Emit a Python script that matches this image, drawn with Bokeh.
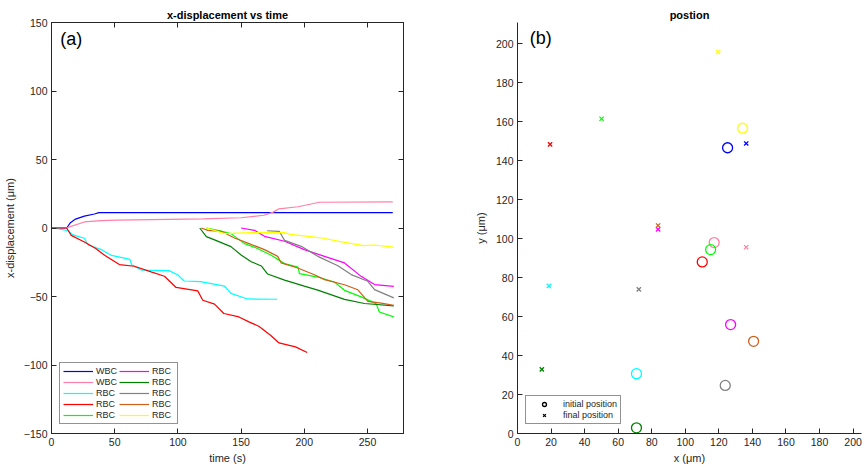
from bokeh.plotting import figure
from bokeh.layouts import row
from bokeh.models import Legend, LegendItem, LinearAxis, Label, FixedTicker, Range1d
from bokeh.embed import file_html
from bokeh.resources import INLINE

# ---------------- data: x-displacement vs time ----------------
t_wbc1 = [0, 12, 15, 19, 26, 34, 37.4, 270]
d_wbc1 = [0, 0, 3.9, 6.5, 8.7, 10.2, 11.2, 11.2]

t_wbc2 = [0, 13, 26, 39, 52, 79, 120, 150, 168, 175, 180, 195, 212, 270]
d_wbc2 = [0, 0.5, 4.4, 5.4, 5.8, 6.1, 6.6, 7.5, 9.3, 11.4, 14.0, 15.5, 18.8, 19]

t_rbc_cyan = [0, 5, 13, 17, 26, 29, 40, 47.5, 55, 62, 63.5, 71, 93, 100, 105, 118, 137, 142, 155, 178.5]
d_rbc_cyan = [0, -0.5, -2, -5, -7.5, -12.4, -16, -20, -21.4, -22.9, -27, -30.7, -31.1, -34.3, -38.7, -39.2, -42.4, -47.7, -51.8, -52]

t_rbc_red = [0, 12, 15.6, 26, 35, 42, 53.7, 65.6, 78.8, 89.4, 98.6, 115.7, 119.7, 129, 136.4, 148.3, 156.2, 164, 173.3, 180, 193, 202.3]
d_rbc_red = [0, 0, -5.4, -10.2, -15, -19.9, -26.7, -27.9, -32, -35.2, -43.4, -45.9, -52.7, -55.6, -62.4, -64.9, -68.5, -71.7, -78.3, -83.9, -86.8, -90.9]

t_rbc_lime = [122.5, 131.6, 142, 152.7, 162, 173.9, 184.4, 195, 196.2, 210.7, 223.8, 231.8, 245, 256.8, 259.4, 270.8]
d_rbc_lime = [0, -1.7, -4.1, -11.4, -14.6, -19.9, -26, -28.5, -33.3, -35.8, -39.4, -45.5, -50.3, -55.2, -61.3, -64.9]

t_rbc_magenta = [150, 160.6, 168.5, 184.4, 200, 216, 231.8, 245, 255.6, 270.8]
d_rbc_magenta = [0, -1.7, -6.1, -9.7, -15.8, -20.7, -25.5, -35.3, -41.3, -42.6]

t_rbc_dkgreen = [117.3, 122.5, 129, 142, 150, 158, 166, 171, 184.4, 200, 210.7, 231.8, 247.6, 270.8]
d_rbc_dkgreen = [0, -6.3, -8.7, -13.6, -19.7, -24.6, -27.7, -33.6, -38, -42.4, -45.3, -52.1, -55.1, -56.8]

t_rbc_gray = [170.6, 180.2, 184.4, 197.6, 210.7, 226.6, 237.1, 250.3, 255.6, 270.8]
d_rbc_gray = [-2, -2.4, -9, -13.4, -20.7, -27.5, -34, -38.9, -45, -51]

t_rbc_brown = [118.5, 123.7, 134.3, 144.8, 155.3, 168.5, 179, 181.7, 194.8, 208, 216, 231.8, 242.4, 250.3, 260.8, 270.8]
d_rbc_brown = [0, -1.7, -2.4, -7.3, -11, -15.8, -20.7, -25.5, -29.2, -34.1, -37.7, -41.4, -45.1, -53.6, -54.8, -56.5]

t_rbc_yellow = [122.5, 137, 158, 184.4, 189, 205, 215.4, 228.6, 247, 255, 270.8]
d_rbc_yellow = [0, -4.1, -3.4, -3.4, -4.6, -6.3, -7.5, -10, -12.9, -12.4, -14]

series_labels = ["WBC", "WBC", "RBC", "RBC", "RBC", "RBC", "RBC", "RBC", "RBC", "RBC"]
series_colors = ["#0000ff", "#ff7fa6", "#00ffff", "#ff0000", "#00ff00",
                 "#ff00ff", "#008000", "#808080", "#cc5f1a", "#ffff00"]

# ---------------- data: positions ----------------
init_x = [125.2, 117.2, 70.9, 110.1, 115.1, 127.0, 70.9, 123.8, 140.7, 134.1]
init_y = [146.7, 98.0, 30.7, 88.1, 94.4, 55.9, 2.9, 24.7, 47.3, 156.7]
final_x = [136.3, 136.3, 18.7, 19.4, 50.1, 83.8, 14.5, 72.3, 83.8, 119.6]
final_y = [148.9, 95.6, 75.8, 148.4, 161.6, 104.8, 32.9, 74.0, 106.8, 195.9]

xt_left = [0, 50, 100, 150, 200, 250]
yt_left = [-150, -100, -50, 0, 50, 100, 150]
xt_right = list(range(0, 201, 20))
yt_right = list(range(0, 201, 20))

FONT = "Liberation Sans"
TXT = "#262626"


def style_axis(ax, ticks, show_labels=True):
    ax.ticker = FixedTicker(ticks=ticks)
    ax.major_tick_in = 5
    ax.major_tick_out = 0
    ax.minor_tick_line_color = None
    ax.axis_line_color = TXT
    ax.major_tick_line_color = TXT
    ax.major_label_text_font = FONT
    ax.major_label_text_color = TXT
    ax.axis_label_text_font = FONT
    ax.axis_label_text_color = TXT
    ax.axis_label_text_font_style = "normal"
    ax.axis_label_text_font_size = "11px"
    if show_labels:
        ax.major_label_text_font_size = "10.5px"
        ax.major_label_standoff = 4
    else:
        ax.major_label_text_font_size = "0px"
        ax.major_label_text_color = None
        ax.major_label_standoff = 0


# ---------------- left figure ----------------
p1 = figure(width=440, height=470, output_backend="svg", toolbar_location=None,
            x_range=Range1d(0, 278.5), y_range=Range1d(-150, 150),
            min_border_left=51, min_border_right=37, min_border_top=22, min_border_bottom=37)
p1.grid.visible = False
p1.outline_line_color = TXT
p1.background_fill_color = "white"
p1.border_fill_color = "white"
p1.title.text = "x-displacement vs time"
p1.title.align = "center"
p1.title.text_font = FONT
p1.title.text_font_size = "11px"
p1.title.text_font_style = "bold"
p1.title.text_color = "black"
p1.title.standoff = 4

style_axis(p1.xaxis[0], xt_left)
style_axis(p1.yaxis[0], yt_left)
p1.xaxis[0].axis_label = "time (s)"
p1.yaxis[0].axis_label = "x-displacement (\u03bcm)"
p1.xaxis[0].axis_label_standoff = 3
p1.yaxis[0].axis_label_standoff = 5

ax_top = LinearAxis()
style_axis(ax_top, xt_left, show_labels=False)
p1.add_layout(ax_top, "above")
ax_right = LinearAxis()
style_axis(ax_right, yt_left, show_labels=False)
p1.add_layout(ax_right, "right")

ts = [t_wbc1, t_wbc2, t_rbc_cyan, t_rbc_red, t_rbc_lime,
      t_rbc_magenta, t_rbc_dkgreen, t_rbc_gray, t_rbc_brown, t_rbc_yellow]
ds = [d_wbc1, d_wbc2, d_rbc_cyan, d_rbc_red, d_rbc_lime,
      d_rbc_magenta, d_rbc_dkgreen, d_rbc_gray, d_rbc_brown, d_rbc_yellow]
items = []
for t, d, c, lab in zip(ts, ds, series_colors, series_labels):
    r = p1.line(t, d, line_color=c, line_width=1.2)
    items.append(LegendItem(label=lab, renderers=[r]))

leg1 = Legend(items=items, location=(8, 9), nrows=5, orientation="vertical",
              label_text_font=FONT, label_text_font_size="9px", label_text_color=TXT,
              glyph_width=30, glyph_height=10, label_height=10, label_width=22,
              spacing=1, padding=3, margin=0, label_standoff=3,
              border_line_color=TXT, border_line_width=1, background_fill_alpha=1)
p1.add_layout(leg1, "center")

p1.add_layout(Label(x=7, y=145.5, text="(a)", text_font=FONT, text_font_size="18px",
                    text_baseline="top", text_align="left", text_color="black"))

# ---------------- right figure ----------------
p2 = figure(width=424, height=470, output_backend="svg", toolbar_location=None,
            x_range=Range1d(0, 205), y_range=Range1d(0, 211),
            min_border_left=77, min_border_right=3, min_border_top=22, min_border_bottom=37)
p2.grid.visible = False
p2.outline_line_color = None
p2.title.text = "postion"
p2.title.align = "center"
p2.title.text_font = FONT
p2.title.text_font_size = "11px"
p2.title.text_font_style = "bold"
p2.title.text_color = "black"
p2.title.standoff = 4
style_axis(p2.xaxis[0], xt_right)
style_axis(p2.yaxis[0], yt_right)
p2.xaxis[0].axis_label = "x (\u03bcm)"
p2.yaxis[0].axis_label = "y (\u03bcm)"
p2.xaxis[0].axis_label_standoff = 3
p2.yaxis[0].axis_label_standoff = 6

p2.scatter(init_x, init_y, marker="circle", size=10, fill_color=None,
           line_color=series_colors, line_width=1.3)
p2.scatter(final_x, final_y, marker="x", size=6, line_color=series_colors, line_width=1.3)

nan = float("nan")
r_init = p2.scatter([nan], [nan], marker="circle", size=9, fill_color=None, line_color="black", line_width=1.3)
r_fin = p2.scatter([nan], [nan], marker="x", size=6, line_color="black", line_width=1.3)
leg2 = Legend(items=[LegendItem(label="initial position", renderers=[r_init]),
                     LegendItem(label="final position", renderers=[r_fin])],
              location=(8, 9), label_text_font=FONT, label_text_font_size="9px",
              label_text_color=TXT, glyph_width=30, glyph_height=10, label_height=10,
              spacing=1, padding=3, margin=0, label_standoff=4,
              border_line_color=TXT, border_line_width=1, background_fill_alpha=1)
p2.add_layout(leg2, "center")

p2.add_layout(Label(x=7.3, y=208, text="(b)", text_font=FONT, text_font_size="18px",
                    text_baseline="top", text_align="left", text_color="black"))

layout = row(p1, p2)
open("out.html", "w").write(file_html(layout, INLINE))
